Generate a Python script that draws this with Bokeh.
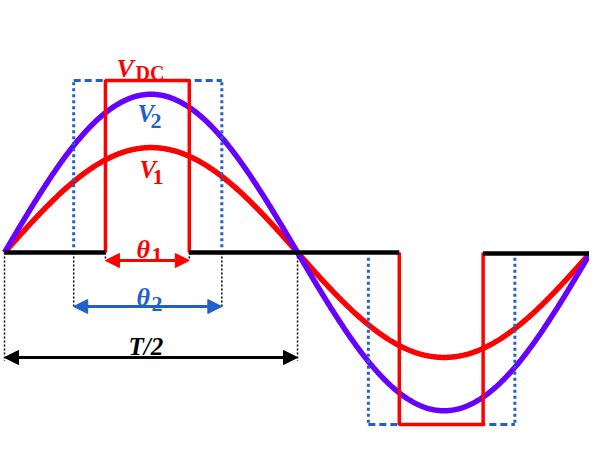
import numpy as np
from bokeh.plotting import figure
from bokeh.models import Range1d, Arrow, NormalHead
from bokeh.core.properties import value
from bokeh.embed import file_html
from bokeh.resources import INLINE

# ---- data ----
v_dc = 1.0                      # DC pulse height
v1_amp = 0.61                   # fundamental V1 amplitude (relative to V_DC)
v2_amp = 0.92                   # V2 amplitude
period_deg = 360                # one full period
pulse_pos = [62.0, 113.5]       # theta1 pulse (positive half), degrees
pulse_neg = [242.5, 294.0]      # theta1 pulse (negative half)
wide_pos = [42.5, 133.5]        # theta2 window (positive half)
wide_neg = [223.5, 313.5]       # theta2 window (negative half)
half_period = [0, 180]          # T/2 span

RED = "#FF0000"
PURPLE = "#6600FF"
BLUE = "#2060C8"
BLACK = "#000000"
FONT = value("Liberation Serif")

PX_PER_DEG = 1.628
PX_PER_UNIT = 172
X0, Y0 = 4, 252          # pixel position of (0 deg, 0 V)
W, H = 589, 437
p = figure(width=W, height=H, output_backend="svg", toolbar_location=None,
           x_range=Range1d(-X0 / PX_PER_DEG, (W - X0) / PX_PER_DEG),
           y_range=Range1d(-(H - Y0) / PX_PER_UNIT, Y0 / PX_PER_UNIT),
           min_border=0, outline_line_color=None)
p.axis.visible = False
p.grid.visible = False

# sine waves
t = np.linspace(0, period_deg, 721)
s = np.sin(np.radians(t * 360 / period_deg))
p.line(t, v1_amp * s, line_color=RED, line_width=5.5)
p.line(t, v2_amp * s, line_color=PURPLE, line_width=5.5)

# blue dashed windows (theta2), open at the baseline
p.multi_line(xs=[[wide_pos[0]] * 2, [wide_pos[1]] * 2, [wide_neg[0]] * 2, [wide_neg[1]] * 2],
             ys=[[0.03, v_dc], [0.03, v_dc], [-0.03, -v_dc], [-0.03, -v_dc]],
             line_color=BLUE, line_width=3, line_dash="3 3")
p.multi_line(xs=[wide_pos, wide_neg], ys=[[v_dc, v_dc], [-v_dc, -v_dc]],
             line_color=BLUE, line_width=3, line_dash="7 4")

# red pulses (V_DC)
p.line([pulse_pos[0], pulse_pos[0], pulse_pos[1], pulse_pos[1]], [0, v_dc, v_dc, 0],
       line_color=RED, line_width=3.5)
p.line([pulse_neg[0], pulse_neg[0], pulse_neg[1], pulse_neg[1]], [0, -v_dc, -v_dc, 0],
       line_color=RED, line_width=3.5)

# black baseline (zero level between pulses)
p.multi_line(xs=[[0, pulse_pos[0]], [pulse_pos[1], pulse_neg[0]], [pulse_neg[1], period_deg]],
             ys=[[0, 0], [0, 0], [-0.006, -0.006]],
             line_color=BLACK, line_width=4.5)

def deg(px):
    return (px - X0) / PX_PER_DEG

def yv(py):
    return (Y0 - py) / PX_PER_UNIT

# dimension levels
y_th1 = yv(260)
y_th2 = yv(306)
y_T = yv(357)

# dotted extension lines
p.multi_line(xs=[[half_period[0]] * 2, [half_period[1]] * 2,
                 [wide_pos[0]] * 2, [wide_pos[1]] * 2,
                 [pulse_pos[0]] * 2, [pulse_pos[1]] * 2],
             ys=[[0, y_T - 0.02], [0, y_T - 0.02], [0, y_th2], [0, y_th2], [0, y_th1], [0, y_th1]],
             line_color=BLACK, line_width=1.5, line_dash="2 2")

# arrows
for (x0, x1, y, col) in [(pulse_pos[0], pulse_pos[1], y_th1, RED),
                         (wide_pos[0], wide_pos[1], y_th2, BLUE),
                         (half_period[0], half_period[1], y_T, BLACK)]:
    p.add_layout(Arrow(x_start=x0, y_start=y, x_end=x1, y_end=y,
                       line_color=col, line_width=3,
                       start=NormalHead(size=14, fill_color=col, line_color=col, line_width=1),
                       end=NormalHead(size=14, fill_color=col, line_color=col, line_width=1)))

def label(x, y, txt, color, size, style):
    p.text(x=[x], y=[y], text=[txt], text_color=color, text_font=FONT,
           text_font_size=size, text_font_style=style,
           text_align="left", text_baseline="alphabetic")

# V_DC
label(deg(116), yv(68), "V", RED, "26px", "bold italic")
label(deg(135), yv(72), "DC", RED, "20px", "bold")
# V2
label(deg(137), yv(113), "V", BLUE, "25px", "bold italic")
label(deg(150), yv(120), "2", BLUE, "22px", "bold")
# V1
label(deg(139), yv(169), "V", RED, "25px", "bold italic")
label(deg(152), yv(176), "1", RED, "22px", "bold")
# theta1 / theta2
label(deg(136), yv(249), "θ", RED, "26px", "bold italic")
label(deg(151), yv(254), "1", RED, "22px", "bold")
label(deg(136), yv(297), "θ", BLUE, "26px", "bold italic")
label(deg(151), yv(303), "2", BLUE, "22px", "bold")
# T/2
label(deg(128), yv(346), "T/2", BLACK, "25px", "bold italic")

open("out.html", "w").write(file_html(p, INLINE))
